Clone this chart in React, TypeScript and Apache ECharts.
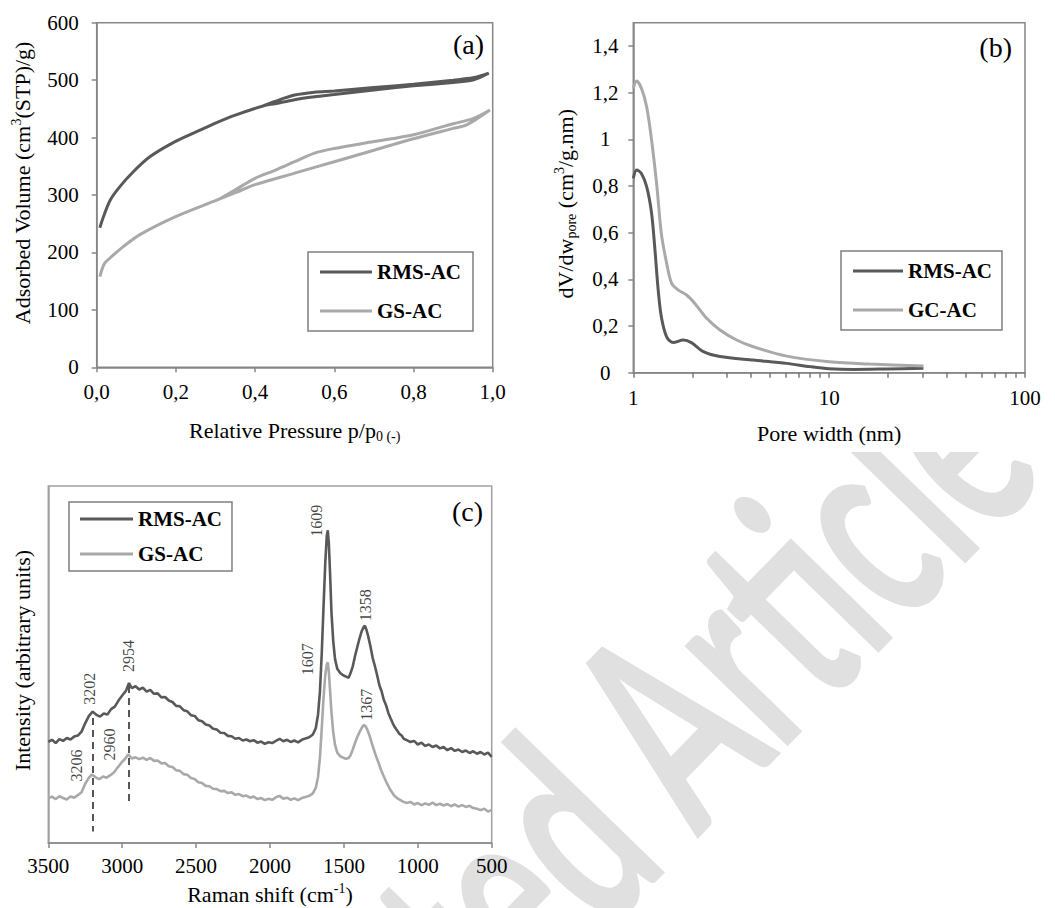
import React, { useEffect, useRef } from 'react';
import * as echarts from 'echarts';

// ---------- (a) N2 isotherms (loop: adsorption up, desorption back) ----------
const isoP_RMS = [0.008, 0.017, 0.034, 0.059, 0.093, 0.135, 0.198, 0.261, 0.303, 0.35, 0.42, 0.45, 0.5, 0.55, 0.6, 0.7, 0.8, 0.9, 0.95, 0.99, 0.95, 0.9, 0.8, 0.7, 0.6, 0.55, 0.5, 0.45, 0.42];
const isoV_RMS = [243, 262, 291, 315, 341, 367, 393, 413, 426, 439, 455, 459, 466, 471, 475, 483, 490, 496, 500, 512, 504, 500, 493, 487, 481, 479, 474, 463, 455];
const isoP_GS = [0.008, 0.02, 0.038, 0.067, 0.109, 0.198, 0.303, 0.35, 0.4, 0.5, 0.6, 0.7, 0.8, 0.9, 0.934, 0.993, 0.95, 0.9, 0.8, 0.7, 0.6, 0.55, 0.5, 0.45, 0.4, 0.35, 0.31];
const isoV_GS = [158, 181, 193, 210, 231, 262, 291, 304, 318, 338, 358, 378, 398, 416, 422, 448, 433, 424, 405, 393, 381, 373, 358, 343, 329, 309, 293];

// ---------- (b) pore size distribution ----------
const psdW_RMS = [1.0, 1.04, 1.10, 1.17, 1.24, 1.29, 1.34, 1.39, 1.48, 1.60, 1.80, 1.98, 2.28, 2.77, 4.10, 6.07, 7.98, 10, 13.3, 19.7, 30.3];
const psdV_RMS = [0.833, 0.869, 0.854, 0.797, 0.683, 0.526, 0.354, 0.24, 0.154, 0.129, 0.14, 0.129, 0.09, 0.069, 0.054, 0.04, 0.026, 0.017, 0.014, 0.016, 0.019];
const psdW_GC = [1.0, 1.04, 1.10, 1.17, 1.24, 1.32, 1.39, 1.48, 1.57, 1.70, 1.87, 2.06, 2.37, 2.77, 3.37, 4.10, 6.07, 10, 16.1, 30.3];
const psdV_GC = [1.219, 1.25, 1.219, 1.14, 0.997, 0.797, 0.597, 0.469, 0.383, 0.354, 0.333, 0.297, 0.233, 0.183, 0.14, 0.111, 0.071, 0.047, 0.037, 0.029];
const psdYTicks = [0, 0.2, 0.4, 0.6, 0.8, 1, 1.2, 1.4];
const psdXTicks = [1, 2, 3, 4, 5, 6, 7, 8, 9, 10, 20, 30, 40, 50, 60, 70, 80, 90, 100];
const psdXLabels = [1, 10, 100];

// ---------- (c) Raman spectra ----------
const ramanShift_RMS = [3500, 3475, 3450, 3425, 3400, 3375, 3350, 3325, 3300, 3275, 3250, 3225, 3200, 3175, 3150, 3125, 3100, 3075, 3050, 3025, 3000, 2975, 2954, 2935, 2910, 2885, 2860, 2835, 2810, 2785, 2760, 2735, 2710, 2685, 2660, 2635, 2610, 2585, 2560, 2535, 2510, 2485, 2460, 2435, 2410, 2385, 2360, 2335, 2310, 2285, 2260, 2235, 2210, 2185, 2160, 2135, 2110, 2085, 2060, 2035, 2010, 1985, 1960, 1935, 1910, 1885, 1860, 1835, 1810, 1785, 1760, 1735, 1710, 1690, 1675, 1662, 1650, 1638, 1626, 1616, 1609, 1602, 1594, 1584, 1572, 1560, 1545, 1525, 1505, 1485, 1468, 1455, 1440, 1425, 1410, 1395, 1380, 1365, 1358, 1348, 1335, 1320, 1305, 1290, 1275, 1260, 1245, 1230, 1215, 1200, 1185, 1170, 1155, 1140, 1125, 1110, 1095, 1075, 1050, 1025, 1000, 975, 950, 925, 900, 875, 850, 825, 800, 775, 750, 725, 700, 675, 650, 625, 600, 575, 550, 525, 500];
const ramanInt_RMS = [28.3, 28.9, 28.0, 29.1, 28.6, 29.4, 29.0, 29.8, 30.1, 31.2, 33.6, 35.6, 36.8, 35.9, 35.4, 36.3, 36.0, 37.5, 38.2, 39.9, 41.3, 42.6, 44.8, 43.4, 43.9, 43.0, 43.5, 42.4, 42.9, 41.8, 41.9, 40.8, 40.9, 39.9, 39.5, 38.4, 38.3, 37.2, 36.9, 35.8, 35.6, 34.4, 34.1, 33.2, 32.9, 32.0, 31.8, 30.9, 30.8, 30.0, 29.9, 29.2, 29.4, 28.7, 29.0, 28.5, 28.8, 28.1, 28.4, 27.8, 28.2, 28.0, 28.6, 29.2, 28.5, 28.9, 28.3, 28.7, 28.2, 28.9, 29.3, 29.6, 30.4, 32.2, 36.0, 42.5, 53.0, 66.0, 78.5, 86.0, 87.6, 84.0, 76.0, 64.5, 56.5, 51.5, 48.8, 47.6, 47.0, 46.6, 46.3, 47.6, 49.5, 52.3, 54.8, 57.2, 59.3, 60.6, 60.9, 59.8, 57.8, 55.0, 51.8, 49.5, 47.0, 44.2, 42.5, 40.1, 38.6, 36.5, 35.0, 33.6, 32.4, 31.5, 30.6, 30.1, 29.2, 28.8, 28.3, 28.6, 27.6, 28.1, 27.2, 27.6, 26.9, 27.3, 26.5, 26.9, 26.0, 26.6, 25.8, 26.2, 25.5, 25.9, 25.2, 25.7, 25.0, 25.5, 24.8, 25.3, 24.1];
const ramanShift_GS = [3500, 3475, 3450, 3425, 3400, 3375, 3350, 3325, 3300, 3275, 3250, 3225, 3205, 3180, 3155, 3130, 3105, 3080, 3055, 3030, 3005, 2980, 2960, 2935, 2910, 2885, 2860, 2835, 2810, 2785, 2760, 2735, 2710, 2685, 2660, 2635, 2610, 2585, 2560, 2535, 2510, 2485, 2460, 2435, 2410, 2385, 2360, 2335, 2310, 2285, 2260, 2235, 2210, 2185, 2160, 2135, 2110, 2085, 2060, 2035, 2010, 1985, 1960, 1935, 1910, 1885, 1860, 1835, 1810, 1785, 1760, 1735, 1710, 1690, 1675, 1662, 1650, 1638, 1626, 1616, 1609, 1602, 1594, 1584, 1572, 1560, 1545, 1525, 1505, 1485, 1468, 1455, 1440, 1425, 1410, 1395, 1380, 1367, 1355, 1340, 1325, 1310, 1295, 1280, 1265, 1250, 1235, 1220, 1205, 1190, 1175, 1160, 1140, 1120, 1100, 1075, 1050, 1025, 1000, 975, 950, 925, 900, 875, 850, 825, 800, 775, 750, 725, 700, 675, 650, 625, 600, 575, 550, 525, 500];
const ramanInt_GS = [12.5, 13.0, 12.3, 13.1, 12.6, 12.2, 13.0, 12.7, 13.4, 14.2, 16.6, 18.3, 19.2, 18.4, 17.9, 18.6, 18.3, 19.0, 19.8, 21.2, 22.5, 23.6, 24.8, 23.7, 24.0, 23.5, 23.9, 23.3, 23.8, 23.0, 23.1, 22.3, 22.4, 21.5, 21.3, 20.4, 20.2, 19.3, 19.1, 18.2, 17.9, 17.0, 16.8, 16.0, 15.9, 15.2, 15.1, 14.5, 14.6, 14.0, 14.2, 13.5, 13.7, 13.1, 13.3, 12.7, 13.0, 12.3, 12.6, 12.0, 12.4, 12.1, 12.8, 13.2, 12.4, 12.7, 12.1, 12.5, 12.0, 12.6, 12.9, 13.2, 13.9, 15.5, 18.5, 24.0, 32.0, 40.5, 47.0, 50.0, 50.6, 48.0, 43.0, 36.5, 31.0, 27.5, 25.3, 24.3, 23.9, 23.6, 23.8, 24.6, 26.2, 28.0, 29.6, 31.0, 32.2, 33.0, 32.8, 31.6, 29.9, 27.8, 25.9, 24.0, 22.4, 20.6, 19.1, 17.7, 16.4, 15.2, 14.2, 13.3, 12.6, 12.1, 11.6, 11.2, 11.5, 10.8, 11.2, 10.6, 11.1, 10.7, 11.3, 10.6, 11.0, 10.5, 10.9, 10.3, 10.8, 10.2, 10.6, 10.1, 10.4, 9.8, 9.6, 9.2, 9.6, 8.8, 9.3];
const peakLabels = ['1609', '1358', '2954', '3202', '3206', '2960', '1607', '1367'];
const peakLabelShift = [1684, 1357, 2959, 3223, 3312, 3083, 1748, 1344];
const peakLabelInt = [90.3, 66.6, 52.4, 43.2, 21.7, 27.6, 51.5, 38.7];
const dashShift = [3202, 2954];
const dashTop = [35.0, 44.0];
const dashBottom = [3.2, 10.7];

const SERIF = "'Liberation Serif', 'Times New Roman', serif";
const DARK = '#595959';
const LIGHT = '#a9a9a9';
const FRAME = '#878787';
const WM = 170;

const zip = (a: number[], b: number[]) => a.map((v, i) => [v, b[i]]);
const comma = (v: number, d: number) => v.toFixed(d).replace('.', ',');

const nameRich = {
  n: { fontFamily: SERIF, fontSize: 22, color: '#000', lineHeight: 26 },
  sub: { fontFamily: SERIF, fontSize: 14, color: '#000', lineHeight: 10, verticalAlign: 'bottom' },
  sup: { fontFamily: SERIF, fontSize: 14, color: '#000', lineHeight: 10, verticalAlign: 'top' },
};

const tickLabel = { fontFamily: SERIF, fontSize: 21, color: '#000' };

function baseAxis(extra: any) {
  const { nameTextStyle, ...rest } = extra;
  return {
    splitLine: { show: false },
    axisLine: { show: true, lineStyle: { color: FRAME, width: 1.5 } },
    axisTick: { show: true, inside: false, length: 5, lineStyle: { color: FRAME, width: 1.5 } },
    nameTextStyle: { rich: nameRich, ...(nameTextStyle || {}) },
    nameLocation: 'middle',
    ...rest,
  };
}

function legendBox(left: number, top: number, names: string[], pad: number[], gap: number, iw: number) {
  return {
    left, top, orient: 'vertical', data: names,
    padding: pad, itemGap: gap, itemWidth: iw, itemHeight: 3, icon: 'rect',
    borderColor: '#7f7f7f', borderWidth: 1.5, backgroundColor: '#fff',
    selectedMode: false,
    textStyle: { fontFamily: SERIF, fontSize: 21, fontWeight: 'bold', color: '#000', lineHeight: 22 },
  };
}

export default function App() {
  const ref = useRef<HTMLDivElement>(null);
  useEffect(() => {
    document.body.style.margin = '0';
    const chart = echarts.init(ref.current!, undefined, { renderer: 'svg' });
    const option: any = {
      animation: false,
      backgroundColor: '#fff',
      grid: [
        { left: 96.7, top: 22.7, width: 396, height: 344.6, show: true, borderColor: FRAME, borderWidth: 1.5 },
        { left: 633.3, top: 22.7, width: 391.7, height: 350, show: true, borderColor: FRAME, borderWidth: 1.5 },
        { left: 48.3, top: 486, width: 443.4, height: 357, show: true, borderColor: '#a0a0a0', borderWidth: 1.5 },
      ],
      xAxis: [
        baseAxis({
          gridIndex: 0, type: 'value', min: 0, max: 1, interval: 0.2,
          axisLabel: { ...tickLabel, margin: 14, formatter: (v: number) => comma(v, 1) },
          name: '{n|Relative Pressure p/p}{sub|0 (-)}', nameGap: 50,
        }),
        baseAxis({
          gridIndex: 1, type: 'log', logBase: 10, min: 1, max: 100,
          axisTick: { show: true, length: 5, customValues: psdXTicks, lineStyle: { color: '#7a7a7a', width: 1.5 } },
          axisLabel: { ...tickLabel, margin: 15, customValues: psdXLabels, formatter: (v: number) => String(Math.round(v)) },
          name: '{n|Pore width (nm)}', nameGap: 48,
        }),
        baseAxis({
          gridIndex: 2, type: 'value', inverse: true, min: 500, max: 3500, interval: 500,
          axisLabel: { ...tickLabel, margin: 12, formatter: (v: number) => String(v) },
          name: '{n|Raman shift (cm}{sup|-1}{n|)}', nameGap: 38,
        }),
      ],
      yAxis: [
        baseAxis({
          gridIndex: 0, type: 'value', min: 0, max: 600, interval: 100,
          axisLabel: { ...tickLabel, margin: 18 },
          name: '{n|Adsorbed Volume (cm}{sup|3}{n|(STP)/g)}', nameGap: 61, nameRotate: 90,
          nameTextStyle: { padding: [0, 0, 0, 24] },
        }),
        baseAxis({
          gridIndex: 1, type: 'value', min: 0, max: 1.5, interval: 0.2,
          axisLabel: { ...tickLabel, margin: 28, align: 'center', customValues: psdYTicks, formatter: (v: number) => String(Math.round(v * 10) / 10).replace('.', ',') },
          axisTick: { show: true, length: 5, customValues: psdYTicks, lineStyle: { color: FRAME, width: 1.5 } },
          name: '{n|dV/dw}{sub|pore}{n| (cm}{sup|3}{n|/g.nm)}', nameGap: 55, nameRotate: 90,
          nameTextStyle: { padding: [0, 12, 0, 0] },
        }),
        baseAxis({
          gridIndex: 2, type: 'value', min: 0, max: 100,
          axisLine: { show: true, lineStyle: { color: '#a0a0a0', width: 1.5 } },
          axisTick: { show: false }, axisLabel: { show: false },
          name: '{n|Intensity (arbitrary units)}', nameGap: 13, nameRotate: 90,
          nameTextStyle: { padding: [0, 0, 0, 8] },
        }),
      ],
      legend: [
        legendBox(308, 252, ['RMS-AC', 'GS-AC'], [9, 12, 9, 12], 17, 52),
        legendBox(841, 251, ['RMS-AC', 'GC-AC'], [9, 10, 9, 12], 17, 50),
        legendBox(69, 502, ['RMS-AC', 'GS-AC'], [6, 10, 6, 11], 13, 53),
      ],
      series: [
        { name: 'RMS-AC', type: 'line', xAxisIndex: 0, yAxisIndex: 0, data: zip(isoP_RMS, isoV_RMS), showSymbol: false, smooth: 0.3, lineStyle: { color: DARK, width: 3 }, itemStyle: { color: DARK } },
        { name: 'GS-AC', type: 'line', xAxisIndex: 0, yAxisIndex: 0, data: zip(isoP_GS, isoV_GS), showSymbol: false, smooth: 0.3, lineStyle: { color: LIGHT, width: 3 }, itemStyle: { color: LIGHT } },
        { name: 'RMS-AC', type: 'line', xAxisIndex: 1, yAxisIndex: 1, data: zip(psdW_RMS, psdV_RMS), showSymbol: false, smooth: 0.3, lineStyle: { color: DARK, width: 3 }, itemStyle: { color: DARK } },
        { name: 'GC-AC', type: 'line', xAxisIndex: 1, yAxisIndex: 1, data: zip(psdW_GC, psdV_GC), showSymbol: false, smooth: 0.3, lineStyle: { color: LIGHT, width: 3 }, itemStyle: { color: LIGHT } },
        {
          name: 'RMS-AC', type: 'line', xAxisIndex: 2, yAxisIndex: 2, data: zip(ramanShift_RMS, ramanInt_RMS), showSymbol: false,
          lineStyle: { color: DARK, width: 2.6 }, itemStyle: { color: DARK },
          markLine: {
            silent: true, symbol: 'none', label: { show: false },
            lineStyle: { color: '#555', width: 2, type: [7, 5] },
            data: dashShift.map((s, i) => [{ coord: [s, dashTop[i]] }, { coord: [s, dashBottom[i]] }]),
          },
        },
        { name: 'GS-AC', type: 'line', xAxisIndex: 2, yAxisIndex: 2, data: zip(ramanShift_GS, ramanInt_GS), showSymbol: false, lineStyle: { color: LIGHT, width: 2.6 }, itemStyle: { color: LIGHT } },
        {
          name: 'peaks', type: 'scatter', xAxisIndex: 2, yAxisIndex: 2, symbolSize: 0, silent: true,
          data: peakLabels.map((t, i) => ({ value: [peakLabelShift[i], peakLabelInt[i]], name: t })),
          label: { show: true, position: 'inside', rotate: 90, formatter: (p: any) => p.name, fontFamily: SERIF, fontSize: 16, color: '#111' },
        },
      ],
      graphic: [
        {
          type: 'group', x: 698, y: 838, rotation: 0.8, scaleY: 1.65, z: -10, silent: true,
          children: [
            { type: 'text', x: 0, y: -0.387 * WM, z: -10, style: { text: 'Article', fontFamily: 'Lato', fontWeight: 'bold', fontSize: WM, fill: '#e0e0e0', textAlign: 'left', textVerticalAlign: 'middle' } },
            { type: 'text', x: -0.22 * WM, y: -0.387 * WM, z: -10, style: { text: 'Accepted', fontFamily: 'Lato', fontWeight: 'bold', fontSize: WM, fill: '#e0e0e0', textAlign: 'right', textVerticalAlign: 'middle' } },
          ],
        },
        { type: 'rect', left: 500, top: 0, z: -5, silent: true, shape: { width: 555, height: 452 }, style: { fill: '#fff' } },
        { type: 'text', right: 1055 - 484, top: 30, style: { text: '(a)', fontFamily: SERIF, fontSize: 28, fill: '#000' } },
        { type: 'text', right: 1055 - 1012, top: 33, style: { text: '(b)', fontFamily: SERIF, fontSize: 28, fill: '#000' } },
        { type: 'text', right: 1055 - 483, top: 497, style: { text: '(c)', fontFamily: SERIF, fontSize: 28, fill: '#000' } },
      ],
    };
    chart.setOption(option);
    return () => chart.dispose();
  }, []);
  return <div ref={ref} style={{ width: 1055, height: 908 }} />;
}
